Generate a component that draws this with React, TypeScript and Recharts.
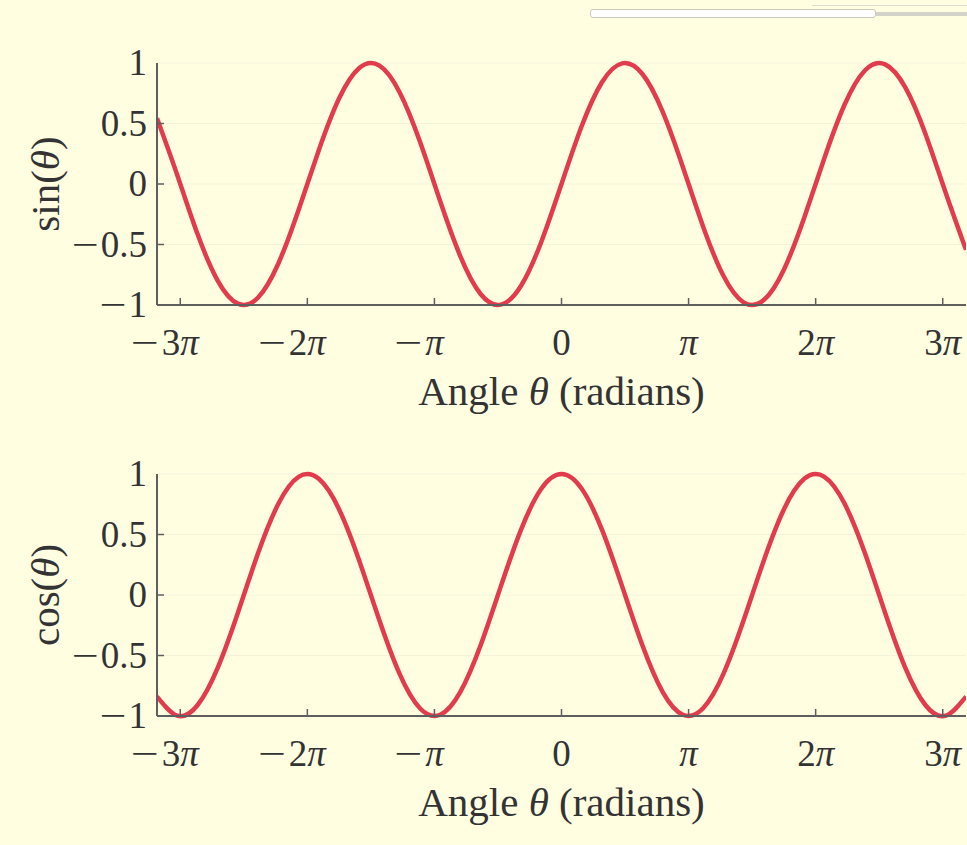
import { LineChart, Line, XAxis, YAxis, CartesianGrid, Label } from 'recharts';

// angle samples (radians) and the curve values read at each one
const angles = [
  -10, -9.5, -9, -8.5, -8, -7.5, -7, -6.5, -6, -5.5, -5, -4.5, -4, -3.5, -3, -2.5, -2, -1.5, -1, -0.5,
  0, 0.5, 1, 1.5, 2, 2.5, 3, 3.5, 4, 4.5, 5, 5.5, 6, 6.5, 7, 7.5, 8, 8.5, 9, 9.5, 10,
];
const sinValues = [
  0.544, 0.075, -0.412, -0.798, -0.989, -0.938, -0.657, -0.215, 0.279, 0.706, 0.959, 0.978, 0.757, 0.351,
  -0.141, -0.598, -0.909, -0.997, -0.841, -0.479, 0, 0.479, 0.841, 0.997, 0.909, 0.598, 0.141, -0.351,
  -0.757, -0.978, -0.959, -0.706, -0.279, 0.215, 0.657, 0.938, 0.989, 0.798, 0.412, -0.075, -0.544,
];
const cosValues = [
  -0.839, -0.997, -0.911, -0.602, -0.146, 0.347, 0.754, 0.977, 0.96, 0.709, 0.284, -0.211, -0.654, -0.936,
  -0.99, -0.801, -0.416, 0.071, 0.54, 0.878, 1, 0.878, 0.54, 0.071, -0.416, -0.801, -0.99, -0.936, -0.654,
  -0.211, 0.284, 0.709, 0.96, 0.977, 0.754, 0.347, -0.146, -0.602, -0.911, -0.997, -0.839,
];

const piTicks = [-9.4248, -6.2832, -3.1416, 0, 3.1416, 6.2832, 9.4248];
const piTickLabels = ['−3π', '−2π', '−π', '0', 'π', '2π', '3π'];
const yTicks = [-1, -0.5, 0, 0.5, 1];
const yTickLabels = ['−1', '−0.5', '0', '0.5', '1'];

const sinData = angles.map((a, i) => ({ angle: a, value: sinValues[i] }));
const cosData = angles.map((a, i) => ({ angle: a, value: cosValues[i] }));

const FONT = '"Liberation Serif", "Times New Roman", serif';
const TICK_SIZE = 37;
const LABEL_SIZE = 41;
const AXIS_COLOR = '#5f5f5f';
const RED = '#e23b4c';
const BG = '#fffee1';

const W = 967;
const H = 420;

function XTick(props: any) {
  const { x, y, payload } = props;
  const idx = piTicks.indexOf(payload.value);
  const label = piTickLabels[idx] ?? '';
  const neg = label.startsWith('−');
  const body = neg ? label.slice(1) : label;
  const coef = body.replace('π', '');
  const hasPi = body.includes('π');
  const bodyW = (coef.length * 0.5 + (hasPi ? 0.55 : 0)) * TICK_SIZE;
  const ty = y + 50;
  return (
    <g>
      <line x1={x} x2={x} y1={y} y2={y - 7} stroke={AXIS_COLOR} strokeWidth={1.5} />
      <text x={x} y={ty} textAnchor="middle" fontFamily={FONT} fontSize={TICK_SIZE} fill="#333">
        {coef}
        {hasPi && <tspan fontStyle="italic">π</tspan>}
      </text>
      {neg && (
        <text
          x={x - bodyW / 2 - 30}
          y={ty}
          fontFamily={FONT}
          fontSize={TICK_SIZE}
          fill="#333"
          textLength={28}
          lengthAdjust="spacingAndGlyphs"
        >
          −
        </text>
      )}
    </g>
  );
}

function YTick(props: any) {
  const { x, y, payload } = props;
  const idx = yTicks.indexOf(payload.value);
  const label = yTickLabels[idx] ?? '';
  const neg = label.startsWith('−');
  const body = neg ? label.slice(1) : label;
  const bodyW = body.split('').reduce((w, c) => w + (c === '.' ? 0.25 : 0.5), 0) * TICK_SIZE;
  const tx = x - 10;
  const ty = y + TICK_SIZE * 0.33;
  return (
    <g>
      {payload.value > -1 && payload.value < 1 && (
        <line x1={x} x2={x + 7} y1={y} y2={y} stroke={AXIS_COLOR} strokeWidth={1.5} />
      )}
      <text x={tx} y={ty} textAnchor="end" fontFamily={FONT} fontSize={TICK_SIZE} fill="#333">
        {body}
      </text>
      {neg && (
        <text
          x={tx - bodyW - 29}
          y={ty}
          fontFamily={FONT}
          fontSize={TICK_SIZE}
          fill="#333"
          textLength={27}
          lengthAdjust="spacingAndGlyphs"
        >
          −
        </text>
      )}
    </g>
  );
}

function XTitle({ viewBox }: any) {
  const { x, y, width } = viewBox;
  return (
    <text x={x + width / 2} y={y + 100} textAnchor="middle" fontFamily={FONT} fontSize={LABEL_SIZE} fill="#333">
      Angle <tspan fontStyle="italic">θ</tspan> (radians)
    </text>
  );
}

function makeYTitle(fn: string) {
  return function YTitle({ viewBox }: any) {
    const { y, height } = viewBox;
    const cx = 45;
    const cy = y + height / 2;
    return (
      <text
        x={cx}
        y={cy}
        transform={`rotate(-90 ${cx} ${cy})`}
        textAnchor="middle"
        dominantBaseline="central"
        fontFamily={FONT}
        fontSize={LABEL_SIZE}
        fill="#333"
      >
        {fn}(<tspan fontStyle="italic">θ</tspan>)
      </text>
    );
  };
}

function TrigPanel({ data, fn }: { data: { angle: number; value: number }[]; fn: string }) {
  return (
    <LineChart width={W} height={H} data={data} margin={{ top: 63, right: 1, bottom: 0, left: 0 }}>
      <CartesianGrid vertical={false} stroke="#f4f3da" strokeWidth={1} />
      <XAxis
        type="number"
        dataKey="angle"
        domain={[-10, 10]}
        ticks={piTicks}
        allowDataOverflow
        height={H - 305}
        axisLine={{ stroke: AXIS_COLOR, strokeWidth: 2 }}
        tickLine={false}
        tickSize={0}
        tickMargin={0}
        tick={XTick}
        interval={0}
      >
        <Label content={XTitle} />
      </XAxis>
      <YAxis
        type="number"
        domain={[-1, 1]}
        ticks={yTicks}
        width={157}
        axisLine={{ stroke: AXIS_COLOR, strokeWidth: 2 }}
        tickLine={false}
        tickSize={0}
        tickMargin={0}
        tick={YTick}
        interval={0}
      >
        <Label content={makeYTitle(fn)} />
      </YAxis>
      <Line
        type="natural"
        dataKey="value"
        stroke={RED}
        strokeWidth={4.5}
        dot={false}
        activeDot={false}
        isAnimationActive={false}
      />
    </LineChart>
  );
}

export default function App() {
  return (
    <div style={{ position: 'fixed', left: 0, top: 0, width: W, height: 845, background: BG, overflow: 'hidden' }}>
      <div style={{ position: 'absolute', left: 812, top: 5, width: 155, height: 1, background: '#dcdcd2' }} />
      <div
        style={{
          position: 'absolute',
          left: 590,
          top: 9,
          width: 284,
          height: 7,
          background: '#ffffff',
          border: '1px solid #c9c9bb',
          borderRadius: 3,
        }}
      />
      <div style={{ position: 'absolute', left: 876, top: 12, width: 91, height: 4, background: '#d3d3ca' }} />
      <div style={{ position: 'absolute', left: 0, top: 0 }}>
        <TrigPanel data={sinData} fn="sin" />
      </div>
      <div style={{ position: 'absolute', left: 0, top: 411 }}>
        <TrigPanel data={cosData} fn="cos" />
      </div>
    </div>
  );
}
